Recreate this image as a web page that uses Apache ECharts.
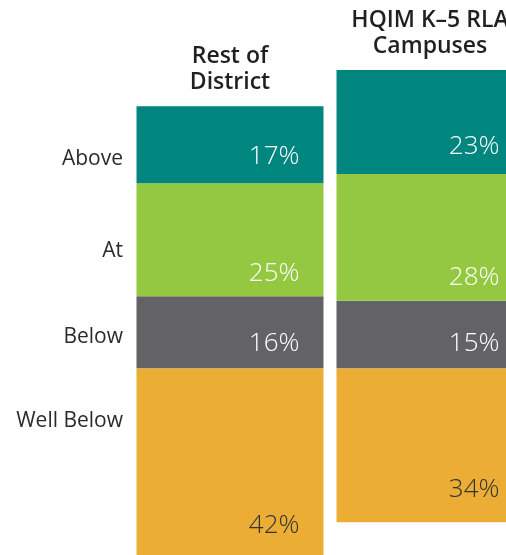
<!DOCTYPE html>
<html>
<head>
<meta charset="utf-8">
<script src="https://cdn.jsdelivr.net/npm/echarts@6/dist/echarts.min.js"></script>
<style>
html, body { margin: 0; padding: 0; background: #fff; }
#main { width: 506px; height: 555px; }
</style>
</head>
<body>
<div id="main"></div>
<script>
var groups = ['Rest of\nDistrict', 'HQIM K–5 RLA\nCampuses'];
var levels = ['Above', 'At', 'Below', 'Well Below'];
var above = [17, 23];
var at = [25, 28];
var below = [16, 15];
var wellBelow = [42, 34];

var chart = echarts.init(document.getElementById('main'));

var FONT = '"Open Sans", "Noto Sans", sans-serif';

function pctLabel(color, dist) {
    return {
        show: true,
        position: 'insideBottomRight',
        distance: dist,
        offset: [-(24 - dist), 0],
        color: color,
        fontFamily: FONT,
        fontWeight: 300,
        fontSize: 26,
        lineHeight: 26,
        formatter: function (p) { return Math.abs(p.value) + '%'; }
    };
}

// Below / At / Above stack upward from zero, Well Below hangs downward
var option = {
    animation: false,
    grid: { left: 130, width: 400, top: 52, height: 520, outerBoundsMode: 'none' },
    xAxis: { type: 'category', data: groups, show: false },
    yAxis: { type: 'value', min: -45, max: 70, show: false },
    series: [
        { name: 'Below', type: 'bar', stack: 'd', barWidth: 187, data: below,
          itemStyle: { color: '#636365' }, label: pctLabel('#fff', 12) },
        { name: 'At', type: 'bar', stack: 'd', barWidth: 187, data: at,
          itemStyle: { color: '#95c841' }, label: pctLabel('#fff', 10) },
        { name: 'Above', type: 'bar', stack: 'd', barWidth: 187, data: above,
          itemStyle: { color: '#00857f' }, label: pctLabel('#fff', 14) },
        { name: 'Well Below', type: 'bar', stack: 'd', barWidth: 187,
          data: wellBelow.map(function (v) { return -v; }),
          itemStyle: { color: '#ebad33' }, label: pctLabel('#333333', 20) }
    ]
};
chart.setOption(option);

// group titles sit just above each bar
var graphics = [];
groups.forEach(function (g, i) {
    var top = above[i] + at[i] + below[i];
    var pt = chart.convertToPixel({ gridIndex: 0 }, [i, top]);
    graphics.push({
        type: 'text', x: pt[0], y: pt[1] - 11,
        style: {
            text: g, fill: '#231f20', font: '600 23px ' + FONT, lineHeight: 26,
            align: 'center', textAlign: 'center',
            verticalAlign: 'bottom', textVerticalAlign: 'bottom'
        }
    });
});

// level names on the left
var levelY = [159, 251.5, 337, 421.5];
levels.forEach(function (name, i) {
    graphics.push({
        type: 'text', x: 123, y: levelY[i],
        style: {
            text: name, fill: '#2b2b2b', font: '21px ' + FONT,
            align: 'right', textAlign: 'right',
            verticalAlign: 'middle', textVerticalAlign: 'middle'
        }
    });
});
chart.setOption({ graphic: graphics });

window.addEventListener('resize', function () { chart.resize(); });
</script>
</body>
</html>
